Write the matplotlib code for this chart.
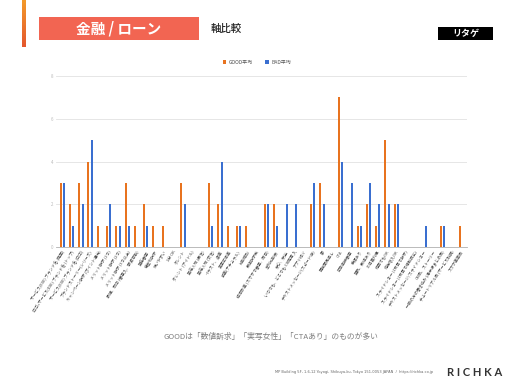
import matplotlib
matplotlib.use('Agg')
import matplotlib.pyplot as plt
from matplotlib.patches import Rectangle, Patch
from matplotlib.colors import LinearSegmentedColormap
import numpy as np

plt.rcParams['font.family'] = ['Noto Sans CJK JP', 'DejaVu Sans']

# Data
categories = [
    'サービス(EXE) ブランド名 (提案)', 'ロゴ+サービス(EXE) ブランド名 (トップ)',
    'サービス(EXE) ブランド名 (ロゴ)', 'ブランドストーリー(シリーズ)',
    'キャンペーン訴求 (ポイント還元)', 'メリット訴求 (1つ)', 'メリット訴求 (2つ)',
    'メリット訴求 (3つ以上)', '最短、即日 (審査入、融資可能)', '実在審査', '低金利訴求',
    '使いやすい', '1分 OK', 'タレント', 'タレント (アイドル)', '実在人物 (男性)',
    '実在人物 (女性)', 'イラスト、漫画', '実写広告画', '動画(ナチュラル)', '比較検討',
    '数値訴求系', '返済計画 (スマホで審査、即日)', '金利比較表', '安心、安全',
    'いつでも、どこでも CB提案 入', 'アプリ紹介', 'テキストメッセージ(スピード感)', '夢',
    '固定費見直し', 'CTA', '広告直接審査', '手順あり', '実例、数値あり', '30日無利息',
    '何回でもOK', '他社借入OK', 'スライドショー (1枚目で訴求)',
    'スライドショー (1枚目で離脱防止)', 'テキストメッセージ/スライドショー',
    'CM風、ストーリー', '一般の方の書き込み (掲示板まとめ風)',
    'チュートリアル風 (サービス説明)', 'スマホ画面風',
]
good_avg = [3, 2, 3, 4, 1, 1, 1, 3, 1, 2, 1, 1, 0, 3, 0, 0, 3, 2, 1, 1, 1, 0, 2,
            2, 0, 0, 0, 2, 3, 0, 7, 0, 1, 2, 1, 5, 2, 0, 0, 0, 0, 1, 0, 1]
bad_avg = [3, 1, 2, 5, 0, 2, 1, 1, 0, 1, 0, 0, 0, 2, 0, 0, 1, 4, 0, 1, 0, 0, 2,
           1, 2, 2, 0, 3, 2, 0, 4, 3, 1, 3, 2, 2, 2, 0, 0, 1, 0, 1, 0, 0]
y_ticks = [0, 2, 4, 6, 8]

color_good = '#E8731F'
color_bad = '#3A6FD0'

fig = plt.figure(figsize=(5.12, 3.83), dpi=100)
fig.patch.set_facecolor('white')

# Background / header layer in pixel coordinates
bg = fig.add_axes([0, 0, 1, 1])
bg.set_xlim(0, 512)
bg.set_ylim(383, 0)
bg.axis('off')

# Orange gradient accent bar
grad_cmap = LinearSegmentedColormap.from_list('accent', ['#F39A2A', '#E4572E'])
bg.imshow(np.linspace(0, 1, 50).reshape(-1, 1), cmap=grad_cmap, aspect='auto',
          extent=(22, 26, 47, 0), zorder=1)

# Title box
bg.add_patch(Rectangle((39, 17), 160, 23, facecolor='#F26552', edgecolor='none'))
bg.text(119, 29, '金融 / ローン', color='white', fontsize=10.5, fontweight='bold',
        ha='center', va='center')
bg.text(211, 28.5, '軸比較', color='#222222', fontsize=7.5, fontweight='medium',
        ha='left', va='center')

# Black tag box
bg.add_patch(Rectangle((438, 27), 55, 13, facecolor='black', edgecolor='none'))
bg.text(465.5, 33.5, 'リタゲ', color='white', fontsize=6.5, fontweight='bold',
        ha='center', va='center')

# Summary line (blurred in the reference)
bg.text(271, 337, 'GOODは「数値訴求」「実写女性」「CTAあり」のものが多い', color='#7d7d7d',
        fontsize=5.6, ha='center', va='center')

# Footer
bg.text(433, 372, 'MP Building 5F, 1-6-12 Yoyogi, Shibuya-ku, Tokyo 151-0053 JAPAN  /  https://richka.co.jp',
        color='#666666', fontsize=2.6, ha='right', va='center', family=['DejaVu Sans'])
bg.text(475, 372, 'R I C H K A', color='#333333', fontsize=8, fontweight='bold',
        ha='center', va='center', family=['Lato', 'DejaVu Sans'])

# Chart
ax = fig.add_axes([56 / 512, 1 - 247 / 383, 411 / 512, 171 / 383])
x = np.arange(len(categories))
ax.bar(x - 0.18, good_avg, width=0.22, color=color_good, zorder=3)
ax.bar(x + 0.18, bad_avg, width=0.22, color=color_bad, zorder=3)
ax.set_xlim(-0.68, len(categories) - 0.38)
ax.set_ylim(0, 8)
ax.set_yticks(y_ticks)
ax.set_yticklabels([str(v) for v in y_ticks])
ax.grid(axis='y', color='#e2e2e2', linewidth=0.6, zorder=0)
ax.set_axisbelow(True)
for side in ['top', 'right', 'left']:
    ax.spines[side].set_visible(False)
ax.spines['bottom'].set_color('#b0b0b0')
ax.spines['bottom'].set_linewidth(0.6)
ax.tick_params(axis='y', length=0, labelsize=3.2, labelcolor='#bbbbbb', pad=2)
ax.set_xticks(x)
ax.set_xticklabels(categories, rotation=57, ha='right', rotation_mode='anchor',
                   fontsize=2.9, color='#444444')
ax.tick_params(axis='x', length=0, pad=2)

# Legend
handles = [Patch(facecolor=color_good), Patch(facecolor=color_bad)]
fig.legend(handles, ['GOOD平均', 'BAD平均'], loc='center',
           bbox_to_anchor=(257 / 512, 1 - 62 / 383), ncol=2, frameon=False,
           fontsize=3.6, handlelength=0.7, handleheight=0.7, handletextpad=0.5,
           columnspacing=2.5, labelcolor='#555555')

plt.savefig('out.png', dpi=100, facecolor='white')
plt.close()
